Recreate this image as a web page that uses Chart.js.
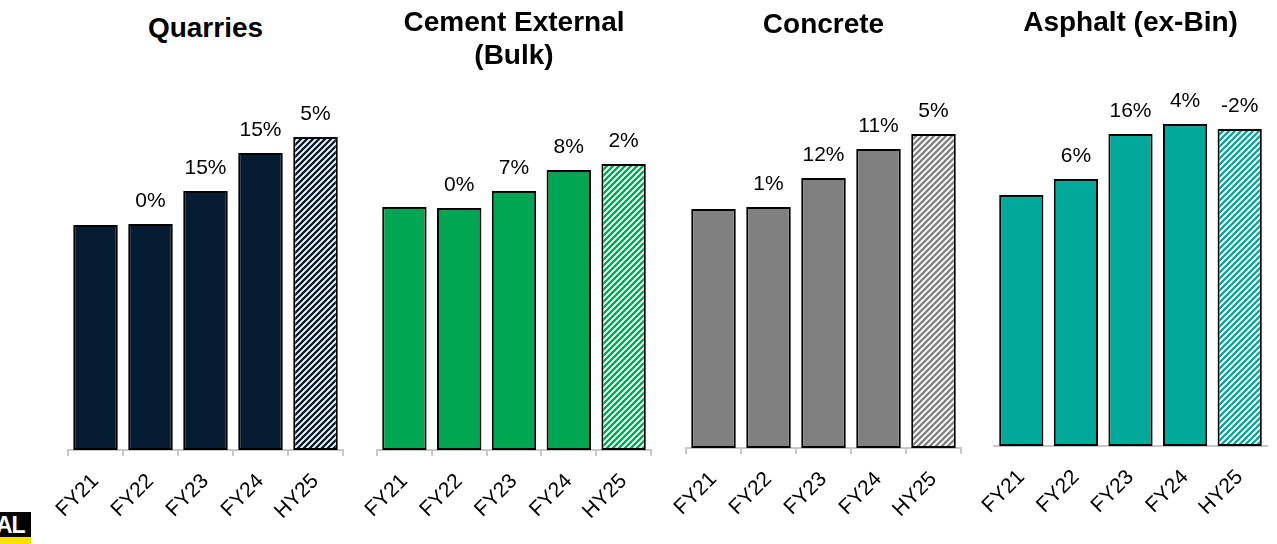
<!DOCTYPE html>
<html>
<head>
<meta charset="utf-8">
<script src="https://cdn.jsdelivr.net/npm/chart.js@4/dist/chart.umd.min.js"></script>
<style>
  html, body { margin: 0; padding: 0; background: #fff; }
  body { width: 1277px; height: 544px; position: relative; overflow: hidden;
         font-family: "Liberation Sans", Arial, Helvetica, sans-serif; }
  canvas { position: absolute; top: 0; }
  .title { position: absolute; text-align: center; font-weight: bold; font-size: 28px;
           line-height: 33px; color: #000; white-space: nowrap; }
  .logo { position: absolute; left: 0; top: 512px; width: 31px; height: 32px; overflow: hidden; }
  .logo .ink { position: absolute; left: 0; top: 0; width: 31px; height: 25px; background: #000; }
  .logo .ink span { position: absolute; left: -4px; top: 1px; color: #fff; font-weight: bold;
                    font-size: 23px; line-height: 24px; letter-spacing: -1px; }
  .logo .band { position: absolute; left: 0; top: 25px; width: 31px; height: 7px; background: #FFE100; }
</style>
</head>
<body>
<div class="logo"><div class="ink"><span>AL</span></div><div class="band"></div></div>
<script>
// Price index by segment, FY21 to HY25 (shared scale across the four panels)
const categories = ['FY21', 'FY22', 'FY23', 'FY24', 'HY25'];

const quarriesValues = [100.0, 100.4, 115.1, 132.0, 139.1];
const quarriesGrowth = [null, '0%', '15%', '15%', '5%'];

const cementValues = [108.0, 107.6, 115.1, 124.4, 127.1];
const cementGrowth = [null, '0%', '7%', '8%', '2%'];

const concreteValues = [106.2, 107.1, 120.0, 132.9, 139.6];
const concreteGrowth = [null, '1%', '12%', '11%', '5%'];

const asphaltValues = [111.6, 118.7, 138.7, 143.1, 140.9];
const asphaltGrowth = [null, '6%', '16%', '4%', '-2%'];

const panelTitles = [['Quarries'], ['Cement External', '(Bulk)'], ['Concrete'], ['Asphalt (ex-Bin)']];

// Layout and styling for each panel
const panels = [
  { title: panelTitles[0], values: quarriesValues, growth: quarriesGrowth,
    color: '#051C33', plotLeft: 68,  plotRight: 343,  base: 450, ticks: true,  titleTop: 11 },
  { title: panelTitles[1], values: cementValues,   growth: cementGrowth,
    color: '#00A651', plotLeft: 377, plotRight: 651,  base: 450, ticks: true,  titleTop: 5 },
  { title: panelTitles[2], values: concreteValues, growth: concreteGrowth,
    color: '#808080', plotLeft: 686, plotRight: 961,  base: 448, ticks: true,  titleTop: 7 },
  { title: panelTitles[3], values: asphaltValues,  growth: asphaltGrowth,
    color: '#00A99A', plotLeft: 994, plotRight: 1267, base: 446, ticks: false, titleTop: 5 }
];

const FONT = '"Liberation Sans", Arial, Helvetica, sans-serif';
const Y_MAX = 150;
const PX_PER_UNIT = 2.25;
const PAD_LEFT = 60, PAD_RIGHT = 10, H = 544;

// Diagonal white/colour stripes for the half-year bar
function stripes(color) {
  const s = 6;
  const c = document.createElement('canvas');
  c.width = s; c.height = s;
  const g = c.getContext('2d');
  g.fillStyle = '#fff';
  g.fillRect(0, 0, s, s);
  g.strokeStyle = color;
  g.lineWidth = 2.3;
  g.beginPath();
  g.moveTo(-1, s + 1); g.lineTo(s + 1, -1);
  g.moveTo(-1, 1); g.lineTo(1, -1);
  g.moveTo(s - 1, s + 1); g.lineTo(s + 1, s - 1);
  g.stroke();
  return g.createPattern(c, 'repeat');
}

// Growth percentages written above the bars
const growthLabels = {
  id: 'growthLabels',
  afterDatasetsDraw(chart, args, opts) {
    const ctx = chart.ctx;
    const meta = chart.getDatasetMeta(0);
    ctx.save();
    ctx.font = '21px ' + FONT;
    ctx.fillStyle = '#000';
    ctx.textAlign = 'center';
    ctx.textBaseline = 'alphabetic';
    meta.data.forEach((bar, i) => {
      const t = opts.labels[i];
      if (t) ctx.fillText(t, bar.x, bar.y - 17);
    });
    ctx.restore();
  }
};

panels.forEach(p => {
  const plotW = p.plotRight - p.plotLeft;
  const cw = plotW + PAD_LEFT + PAD_RIGHT;

  const t = document.createElement('div');
  t.className = 'title';
  t.style.left = (p.plotLeft - 100) + 'px';
  t.style.width = (plotW + 200) + 'px';
  t.style.top = p.titleTop + 'px';
  t.innerHTML = p.title.join('<br>');
  document.body.appendChild(t);

  const cv = document.createElement('canvas');
  cv.width = cw; cv.height = H;
  cv.style.left = (p.plotLeft - PAD_LEFT) + 'px';
  cv.style.width = cw + 'px'; cv.style.height = H + 'px';
  document.body.appendChild(cv);

  const fills = p.values.map((v, i) => i === p.values.length - 1 ? stripes(p.color) : p.color);

  new Chart(cv.getContext('2d'), {
    type: 'bar',
    data: {
      labels: categories,
      datasets: [{
        data: p.values,
        backgroundColor: fills,
        borderColor: '#000',
        borderWidth: 2,
        borderSkipped: false,
        categoryPercentage: 1.0,
        barPercentage: 0.81
      }]
    },
    options: {
      responsive: false,
      animation: false,
      devicePixelRatio: 1,
      layout: { padding: { left: PAD_LEFT, right: PAD_RIGHT, top: p.base - Y_MAX * PX_PER_UNIT, bottom: 0 } },
      plugins: {
        legend: { display: false },
        tooltip: { enabled: false },
        growthLabels: { labels: p.growth }
      },
      scales: {
        y: { display: false, min: 0, max: Y_MAX },
        x: {
          afterFit(scale) { scale.height = H - p.base; },
          grid: {
            display: true, drawOnChartArea: false, drawTicks: true, tickLength: 6,
            color: p.ticks ? '#C8C8C8' : 'rgba(0,0,0,0)', lineWidth: 2
          },
          border: { display: true, color: '#C8C8C8', width: 2 },
          ticks: {
            minRotation: 45, maxRotation: 45, padding: 13,
            color: '#000', font: { family: FONT, size: 21 }
          }
        }
      }
    },
    plugins: [growthLabels]
  });
});
</script>
</body>
</html>
